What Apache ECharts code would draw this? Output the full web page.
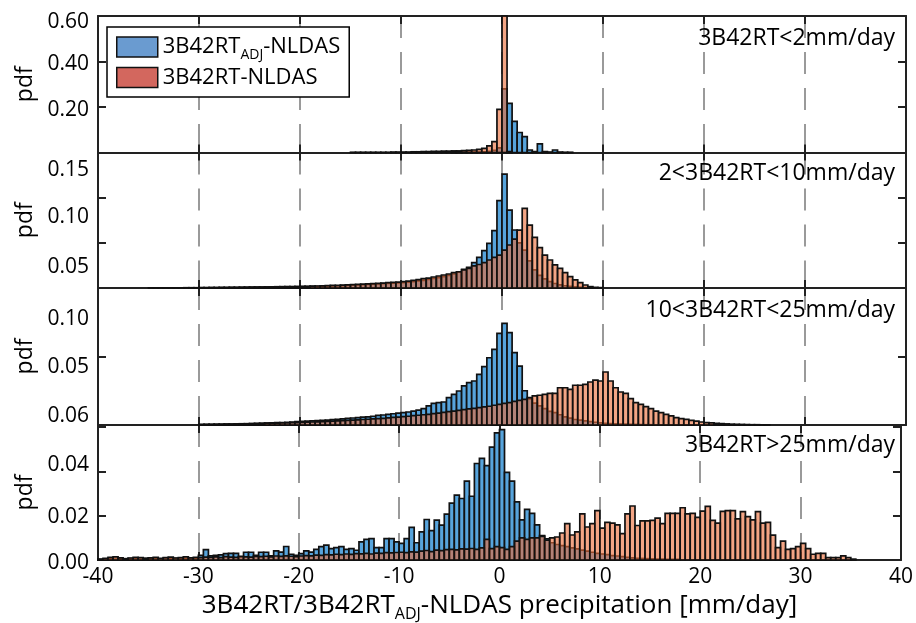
<!DOCTYPE html>
<html>
<head>
<meta charset="utf-8">
<script src="https://cdn.jsdelivr.net/npm/echarts@6/dist/echarts.min.js"></script>
<style>
  html, body { margin: 0; padding: 0; background: #fff; }
  #chart { width: 916px; height: 623px; }
</style>
</head>
<body>
<div id="chart"></div>
<script>
// histogram bins, 0.5 mm/day wide, -40 .. 40 (160 bins)
const binWidth = 0.5;
const xMin = -40;
const xMax = 40;
const binCount = 160;

// panel labels
const p1Title = "3B42RT<2mm/day";
const p2Title = "2<3B42RT<10mm/day";
const p3Title = "10<3B42RT<25mm/day";
const p4Title = "3B42RT>25mm/day";

// y tick labels, as printed on the figure
const p1YTicks = [0.2, 0.4, 0.6];
const p1YText = ["0.20", "0.40", "0.60"];
const p2YTicks = [0.05, 0.1, 0.15];
const p2YText = ["0.05", "0.10", "0.15"];
const p3YTicks = [0.05, 0.1];
const p3YText = ["0.05", "0.10"];
const p4YTicks = [0, 0.02, 0.04, 0.06];
const p4YText = ["0.00", "0.02", "0.04", "0.06"];

// pdf per bin, 10 bins per row (row k starts at x = -40 + 5k)
// 3B42RT < 2 mm/day
const p1Adj = [
  0,0,0,0,0,0,0,0,0,0, 0,0,0,0,0,0,0,0,0,0,
  0,0,0,0,0,0,0,0,0,0, 0,0,0,0,0,0,0,0,0,0,
  0,0,0,0,0,0,0,0,0,0, 0,0,0,0,0,0,0,0,0,0,
  0,0,0,0,0,0,0,0,0,0,
  0.001,0.001,0.001,0.001,0.002,0.002,0.003,0.005,0.01,0.02,
  0.28,0.216,0.137,0.088,0.07,0.011,0.004,0.038,0.004,0.002,
  0.011,0.002,0.001,0.001,0,0,0,0,0,0,
  0,0,0,0,0,0,0,0,0,0, 0,0,0,0,0,0,0,0,0,0,
  0,0,0,0,0,0,0,0,0,0, 0,0,0,0,0,0,0,0,0,0,
  0,0,0,0,0,0,0,0,0,0, 0,0,0,0,0,0,0,0,0,0
];
const p1Rt = [
  0,0,0,0,0,0,0,0,0,0, 0,0,0,0,0,0,0,0,0,0,
  0,0,0,0,0,0,0,0,0,0, 0,0,0,0,0,0,0,0,0,0,
  0,0,0,0,0,0,0,0,0,0,
  0.001,0.001,0.001,0.001,0.001,0.001,0.001,0.001,0.002,0.002,
  0.002,0.002,0.003,0.003,0.004,0.004,0.005,0.005,0.006,0.006,
  0.007,0.007,0.008,0.009,0.011,0.014,0.018,0.029,0.048,0.19,
  0.6,0.004,0,0,0,0,0,0,0,0,
  0,0,0,0,0,0,0,0,0,0, 0,0,0,0,0,0,0,0,0,0,
  0,0,0,0,0,0,0,0,0,0, 0,0,0,0,0,0,0,0,0,0,
  0,0,0,0,0,0,0,0,0,0, 0,0,0,0,0,0,0,0,0,0,
  0,0,0,0,0,0,0,0,0,0
];
// 2 < 3B42RT < 10 mm/day
const p2Adj = [
  0,0,0,0,0,0,0,0,0,0, 0,0,0,0,0,0,0,0,0,0,
  0.0003,0.0003,0.0004,0.0004,0.0005,0.0005,0.0006,0.0006,0.0007,0.0007,
  0.0008,0.0008,0.0009,0.0009,0.001,0.0011,0.0011,0.0012,0.0013,0.0014,
  0.0015,0.0016,0.0017,0.0018,0.002,0.0022,0.0023,0.0025,0.0027,0.003,
  0.0032,0.0034,0.0036,0.0039,0.0042,0.0045,0.0048,0.0051,0.0054,0.0057,
  0.006,0.0065,0.007,0.0078,0.0085,0.0095,0.0105,0.0115,0.0125,0.014,
  0.0155,0.0175,0.0207,0.0229,0.028,0.034,0.0413,0.0494,0.0635,0.0967,
  0.126,0.0863,0.0642,0.05,0.042,0.03,0.02,0.014,0.01,0.007,
  0.005,0.0035,0.0025,0.0018,0.0012,0.0008,0.0004,0,0,0,
  0,0,0,0,0,0,0,0,0,0, 0,0,0,0,0,0,0,0,0,0,
  0,0,0,0,0,0,0,0,0,0, 0,0,0,0,0,0,0,0,0,0,
  0,0,0,0,0,0,0,0,0,0, 0,0,0,0,0,0,0,0,0,0
];
const p2Rt = [
  0,0,0,0,0,0,0,0,0,0,
  0.0001,0.0001,0.0001,0.0002,0.0002,0.0002,0.0002,0.0003,0.0003,0.0003,
  0.0004,0.0004,0.0005,0.0005,0.0006,0.0006,0.0007,0.0007,0.0008,0.0009,
  0.001,0.0011,0.0011,0.0012,0.0013,0.0014,0.0015,0.0016,0.0016,0.0017,
  0.0018,0.0019,0.0021,0.0022,0.0024,0.0026,0.0028,0.003,0.0032,0.0035,
  0.0037,0.004,0.0043,0.0046,0.0049,0.0052,0.0055,0.0059,0.0062,0.0066,
  0.007,0.0077,0.0085,0.0092,0.0103,0.011,0.0122,0.0133,0.0144,0.0155,
  0.017,0.018,0.02,0.0218,0.0244,0.026,0.028,0.031,0.034,0.0365,
  0.042,0.0476,0.054,0.064,0.0882,0.0697,0.0561,0.0446,0.0365,0.031,
  0.0255,0.0218,0.017,0.0125,0.0089,0.0059,0.0033,0.0015,0.0007,0.0004,
  0,0,0,0,0,0,0,0,0,0, 0,0,0,0,0,0,0,0,0,0,
  0,0,0,0,0,0,0,0,0,0, 0,0,0,0,0,0,0,0,0,0,
  0,0,0,0,0,0,0,0,0,0, 0,0,0,0,0,0,0,0,0,0
];
// 10 < 3B42RT < 25 mm/day
const p3Adj = [
  0,0,0,0,0,0,0,0,0,0, 0,0,0,0,0,0,0,0,0,0,
  0.0003,0.0003,0.0004,0.0004,0.0005,0.0006,0.0006,0.0007,0.0008,0.0009,
  0.001,0.0011,0.0012,0.0013,0.0015,0.0017,0.0018,0.002,0.0022,0.0024,
  0.0027,0.0029,0.003,0.0032,0.0034,0.0036,0.0039,0.0042,0.0045,0.0048,
  0.0051,0.0054,0.0057,0.006,0.0064,0.007,0.0073,0.0077,0.0082,0.0086,
  0.009,0.0095,0.0102,0.0109,0.0119,0.0139,0.0158,0.0163,0.0168,0.02,
  0.0224,0.0248,0.0285,0.0309,0.0321,0.037,0.0426,0.0491,0.0552,0.0669,
  0.0742,0.0674,0.0528,0.043,0.025,0.019,0.016,0.014,0.012,0.01,
  0.009,0.0075,0.006,0.005,0.004,0.0035,0.003,0.0025,0.002,0.0015,
  0.0012,0.001,0.0008,0.0007,0.0006,0.0005,0.0004,0.0003,0.0002,0.0002,
  0,0,0,0,0,0,0,0,0,0, 0,0,0,0,0,0,0,0,0,0,
  0,0,0,0,0,0,0,0,0,0, 0,0,0,0,0,0,0,0,0,0,
  0,0,0,0,0,0,0,0,0,0
];
const p3Rt = [
  0,0,0,0,0,0,0,0,0,0, 0,0,0,0,0,0,0,0,0,0,
  0.0004,0.0005,0.0005,0.0006,0.0006,0.0007,0.0007,0.0008,0.0009,0.0009,
  0.001,0.0011,0.0012,0.0013,0.0013,0.0014,0.0015,0.0016,0.0017,0.0018,
  0.0019,0.002,0.0022,0.0023,0.0025,0.0027,0.0028,0.003,0.0032,0.0034,
  0.0036,0.0038,0.004,0.0042,0.0044,0.0046,0.0049,0.0052,0.0055,0.0058,
  0.0061,0.0064,0.0068,0.0071,0.0075,0.0078,0.0083,0.0087,0.0092,0.0097,
  0.0102,0.0107,0.0112,0.0117,0.0122,0.0127,0.0132,0.0137,0.0144,0.0151,
  0.0158,0.0163,0.0173,0.018,0.0187,0.02,0.0212,0.0217,0.0224,0.0231,
  0.0231,0.0272,0.0272,0.026,0.029,0.029,0.0297,0.0314,0.0328,0.0321,
  0.0387,0.0321,0.0272,0.0241,0.0231,0.0192,0.0163,0.0151,0.0134,0.0119,
  0.0102,0.009,0.0078,0.0066,0.0054,0.0046,0.0041,0.0034,0.0029,0.0022,
  0.0017,0.0015,0.0012,0.001,0.0008,0.0006,0.0005,0.0004,0.0003,0.0002,
  0.0002,0.0001,0.0001,0,0,0,0,0,0,0,
  0,0,0,0,0,0,0,0,0,0, 0,0,0,0,0,0,0,0,0,0
];
// 3B42RT > 25 mm/day
const p4Adj = [
  0.0003,0.0005,0.0008,0.0004,0.0006,0.0005,0.0007,0.0006,0.0004,0.0008,
  0.0006,0.0007,0.0005,0.0009,0.0006,0.0008,0.0005,0.0006,0.0009,0.0008,
  0.0021,0.0047,0.0019,0.0021,0.0023,0.0029,0.003,0.003,0.0014,0.0035,
  0.0035,0.0021,0.0035,0.0035,0.0019,0.0041,0.0036,0.0061,0.0026,0.0021,
  0.0029,0.0041,0.0036,0.0048,0.006,0.0067,0.0051,0.0056,0.006,0.0048,
  0.0051,0.0044,0.0082,0.0093,0.0097,0.0056,0.0056,0.0097,0.0097,0.0082,
  0.0075,0.0097,0.0147,0.0078,0.0127,0.0183,0.0133,0.018,0.0158,0.0207,
  0.0257,0.0293,0.0278,0.0356,0.0288,0.0436,0.0459,0.0426,0.051,0.0574,
  0.0589,0.0396,0.0356,0.0263,0.0181,0.0229,0.0211,0.0159,0.011,0.0096,
  0.0078,0.007,0.0065,0.006,0.0055,0.005,0.0045,0.004,0.0035,0.003,
  0.0027,0.0024,0.002,0.0018,0.0015,0.0012,0.001,0.0008,0.0007,0.0006,
  0.0005,0.0004,0.0004,0.0003,0.0003,0.0003,0,0,0,0,
  0,0,0,0,0,0,0,0,0,0, 0,0,0,0,0,0,0,0,0,0,
  0,0,0,0,0,0,0,0,0,0, 0,0,0,0,0,0,0,0,0,0
];
const p4Rt = [
  0.0004,0.0008,0.0012,0.0014,0.001,0.0006,0.0009,0.0012,0.0011,0.0007,
  0.001,0.0012,0.0008,0.0011,0.0013,0.0009,0.0011,0.0014,0.001,0.0012,
  0.0011,0.0013,0.0012,0.0014,0.0011,0.0015,0.0013,0.0012,0.0016,0.0014,
  0.0013,0.0016,0.0015,0.0017,0.0014,0.0018,0.0016,0.0019,0.0017,0.0015,
  0.0018,0.002,0.0019,0.0022,0.0021,0.0024,0.0023,0.0026,0.0024,0.0027,
  0.0025,0.0029,0.0028,0.003,0.0027,0.0031,0.003,0.0033,0.0032,0.0034,
  0.0035,0.0033,0.0037,0.0036,0.004,0.0043,0.0038,0.0045,0.0042,0.0047,
  0.0048,0.0046,0.005,0.0049,0.0052,0.0048,0.0055,0.0093,0.0051,0.006,
  0.0056,0.0048,0.006,0.0085,0.01,0.0093,0.01,0.01,0.0107,0.009,
  0.01,0.0104,0.0122,0.0164,0.0113,0.0127,0.0208,0.0149,0.0164,0.0223,
  0.0144,0.017,0.0167,0.0159,0.0119,0.0208,0.0244,0.0156,0.0177,0.0177,
  0.0179,0.0189,0.0164,0.0211,0.0211,0.0211,0.0236,0.0208,0.0211,0.0193,
  0.0221,0.0242,0.0179,0.0167,0.022,0.0223,0.0223,0.0186,0.0219,0.0196,
  0.0181,0.0219,0.0167,0.017,0.0112,0.0056,0.0085,0.0048,0.0051,0.006,
  0.0075,0.0051,0.0026,0.003,0.003,0.0011,0.0011,0.0011,0.0019,0.0011,
  0.0004,0,0,0,0,0,0,0,0,0
];

const nameAdj = "3B42RT_ADJ-NLDAS";
const nameRt = "3B42RT-NLDAS";
const font = '"Open Sans", "DejaVu Sans", sans-serif';

// colours
const blueFill = "#57a4dc";
const orangeFill = "rgba(236, 110, 58, 0.62)";
const legendBlue = "#6a9bd0";
const legendRed = "#d3675e";
const frame = "#222";

const binStarts = [];
for (let i = 0; i < binCount; i++) binStarts.push(xMin + i * binWidth);

// layout of the four stacked panels (px)
const panels = [
  { adj: p1Adj, rt: p1Rt, title: p1Title, ticks: p1YTicks, text: p1YText, shift: [3, 3, 6], top: 16, height: 136.5, max: 0.6, interval: 0.2, titleDy: 9 },
  { adj: p2Adj, rt: p2Rt, title: p2Title, ticks: p2YTicks, text: p2YText, shift: [24, 19.5, 18], top: 152.5, height: 135.5, max: 0.15, interval: 0.05, titleDy: 7.5 },
  { adj: p3Adj, rt: p3Rt, title: p3Title, ticks: p3YTicks, text: p3YText, shift: [11, 31], top: 288, height: 137, max: 0.1, interval: 0.05, titleDy: 9 },
  { adj: p4Adj, rt: p4Rt, title: p4Title, ticks: p4YTicks, text: p4YText, shift: [3, 1.5, -6, -11], top: 425, height: 137.5, max: 0.061, interval: 0.02, titleDy: 7 },
];

function toBins(vals) {
  return vals
    .map((v, i) => [binStarts[i], binStarts[i] + binWidth, v])
    .filter((d) => d[2] > 0);
}

// one rectangle per bin, placed through the axes
function renderBar(params, api) {
  const top = api.coord([api.value(0), api.value(2)]);
  const base = api.coord([api.value(1), 0]);
  return {
    type: "rect",
    shape: { x: top[0], y: top[1], width: base[0] - top[0], height: base[1] - top[1] },
    style: { fill: api.visual("color"), stroke: "#111", lineWidth: 1.7 },
  };
}

const tickStyle = { show: true, inside: true, length: 8, lineStyle: { color: frame, width: 2 } };
const lineStyle = { show: true, onZero: false, lineStyle: { color: frame, width: 2 } };

const grid = [];
const xAxis = [];
const yAxis = [];
const series = [];
const title = [];

panels.forEach((p, k) => {
  const last = k === panels.length - 1;
  grid.push({ left: 98, right: 10, top: p.top, height: p.height });

  // bottom axis (labels only on the last panel) + mirrored top axis
  xAxis.push({
    type: "value", gridIndex: k, min: xMin, max: xMax, interval: 10, position: "bottom",
    axisLine: lineStyle, axisTick: tickStyle,
    axisLabel: { show: last, fontFamily: font, fontSize: 21, color: "#000", margin: 7 },
    splitLine: { show: true, lineStyle: { color: "#9a9a9a", width: 2, type: [22, 14] } },
    name: last ? "3B42RT/3B42RT{sub|ADJ}-NLDAS precipitation [mm/day]" : "",
    nameLocation: "middle", nameGap: 30,
    nameTextStyle: {
      fontFamily: font, fontSize: 26, color: "#000", lineHeight: 32,
      rich: { sub: { fontFamily: font, fontSize: 16, lineHeight: 15, verticalAlign: "bottom", color: "#000" } },
    },
  });
  xAxis.push({
    type: "value", gridIndex: k, min: xMin, max: xMax, interval: 10, position: "top",
    axisLine: lineStyle, axisTick: tickStyle, axisLabel: { show: false }, splitLine: { show: false },
  });

  // y label positions follow the figure, which prints some labels off their ticks
  const rich = {};
  p.shift.forEach((s, j) => {
    rich["s" + j] = {
      fontFamily: font, fontSize: 21, color: "#000",
      padding: s >= 0 ? [2 * s, 0, 0, 0] : [0, 0, -2 * s, 0],
    };
  });
  yAxis.push({
    type: "value", gridIndex: k, min: 0, max: p.max, interval: p.interval, position: "left",
    axisLine: lineStyle, axisTick: tickStyle, splitLine: { show: false },
    axisLabel: {
      show: true, margin: 9, rich: rich,
      formatter: (v) => {
        const j = p.ticks.findIndex((t) => Math.abs(t - v) < 1e-6);
        return j < 0 ? "" : "{s" + j + "|" + p.text[j] + "}";
      },
    },
    name: "pdf", nameLocation: "middle", nameGap: 58, nameRotate: 90,
    nameTextStyle: { fontFamily: font, fontSize: 23, color: "#000" },
  });
  yAxis.push({
    type: "value", gridIndex: k, min: 0, max: p.max, interval: p.interval, position: "right",
    axisLine: lineStyle, axisTick: tickStyle, axisLabel: { show: false }, splitLine: { show: false },
  });

  series.push({
    name: nameAdj, type: "custom", xAxisIndex: 2 * k, yAxisIndex: 2 * k,
    renderItem: renderBar, itemStyle: { color: blueFill },
    encode: { x: [0, 1], y: 2 }, data: toBins(p.adj),
  });
  series.push({
    name: nameRt, type: "custom", xAxisIndex: 2 * k, yAxisIndex: 2 * k,
    renderItem: renderBar, itemStyle: { color: orangeFill },
    encode: { x: [0, 1], y: 2 }, data: toBins(p.rt),
  });

  title.push({
    text: p.title, right: 21, top: p.top + p.titleDy, padding: 0,
    textStyle: { fontFamily: font, fontSize: 23, fontWeight: "normal", color: "#000", lineHeight: 26 },
  });
});

const chart = echarts.init(document.getElementById("chart"));
chart.setOption({
  animation: false,
  backgroundColor: "#fff",
  title: title,
  grid: grid,
  xAxis: xAxis,
  yAxis: yAxis,
  series: series,
  legend: {
    left: 107, top: 27, orient: "vertical",
    padding: [5, 9, 4.5, 9], itemGap: 0.5,
    itemWidth: 41, itemHeight: 20, icon: "rect",
    backgroundColor: "#fff", borderColor: "#000", borderWidth: 1.5,
    itemStyle: { borderColor: "#111", borderWidth: 1.5 },
    data: [
      { name: nameAdj, itemStyle: { color: legendBlue } },
      { name: nameRt, itemStyle: { color: legendRed } },
    ],
    formatter: (n) => (n === nameAdj ? "3B42RT{sub|ADJ}-NLDAS" : n),
    textStyle: {
      fontFamily: font, fontSize: 22, color: "#000", lineHeight: 30,
      rich: { sub: { fontFamily: font, fontSize: 14, lineHeight: 14, verticalAlign: "bottom", color: "#000" } },
    },
  },
});
</script>
</body>
</html>
